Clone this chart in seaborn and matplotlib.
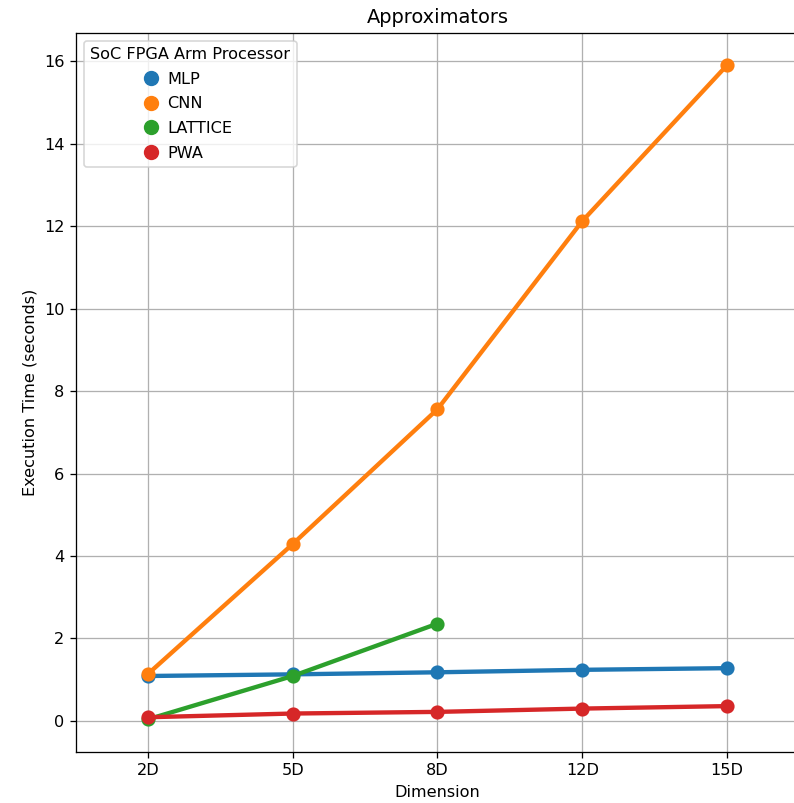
import pandas as pd
import seaborn as sns
import matplotlib.pyplot as plt
from matplotlib.lines import Line2D

# -------------------------------------------------
# DATA
# -------------------------------------------------

dimensions = ["2D", "5D", "8D", "12D", "15D"]
approximators = ["MLP", "CNN", "LATTICE", "PWA"]

mlp_times = [1.09, 1.13, 1.18, 1.24, 1.28]
cnn_times = [1.14, 4.29, 7.56, 12.12, 15.90]
lattice_times = [0.04, 1.09, 2.36]
pwa_times = [0.09, 0.18, 0.22, 0.30, 0.36]

rows = []
for name, vals in zip(approximators, [mlp_times, cnn_times, lattice_times, pwa_times]):
    for d, v in zip(dimensions, vals):
        rows.append({"Dimension": d, "Time": v, "Approximator": name})

df = pd.DataFrame(rows)

# -------------------------------------------------
# PLOT
# -------------------------------------------------

DPI = 116
fig = plt.figure(figsize=(794 / DPI, 803 / DPI), dpi=DPI)
ax = fig.add_axes([0.0952, 0.0635, 0.9116, 0.896])

palette = sns.color_palette()[:4]

sns.pointplot(
    data=df,
    x="Dimension",
    y="Time",
    hue="Approximator",
    hue_order=approximators,
    order=dimensions,
    palette=palette,
    ax=ax
)

ax.set_title("Approximators")
ax.set_xlabel("Dimension")
ax.set_ylabel("Execution Time (seconds)")
ax.grid(True)
ax.set_axisbelow(True)

handles = [
    Line2D([], [], marker="o", linestyle="", color=c, markersize=8.5)
    for c in palette
]
ax.legend(
    handles,
    approximators,
    title="SoC FPGA Arm Processor",
    loc="upper left",
    handlelength=0.4,
    labelspacing=0.6
)

plt.savefig("out.png", dpi=DPI)
plt.close()
